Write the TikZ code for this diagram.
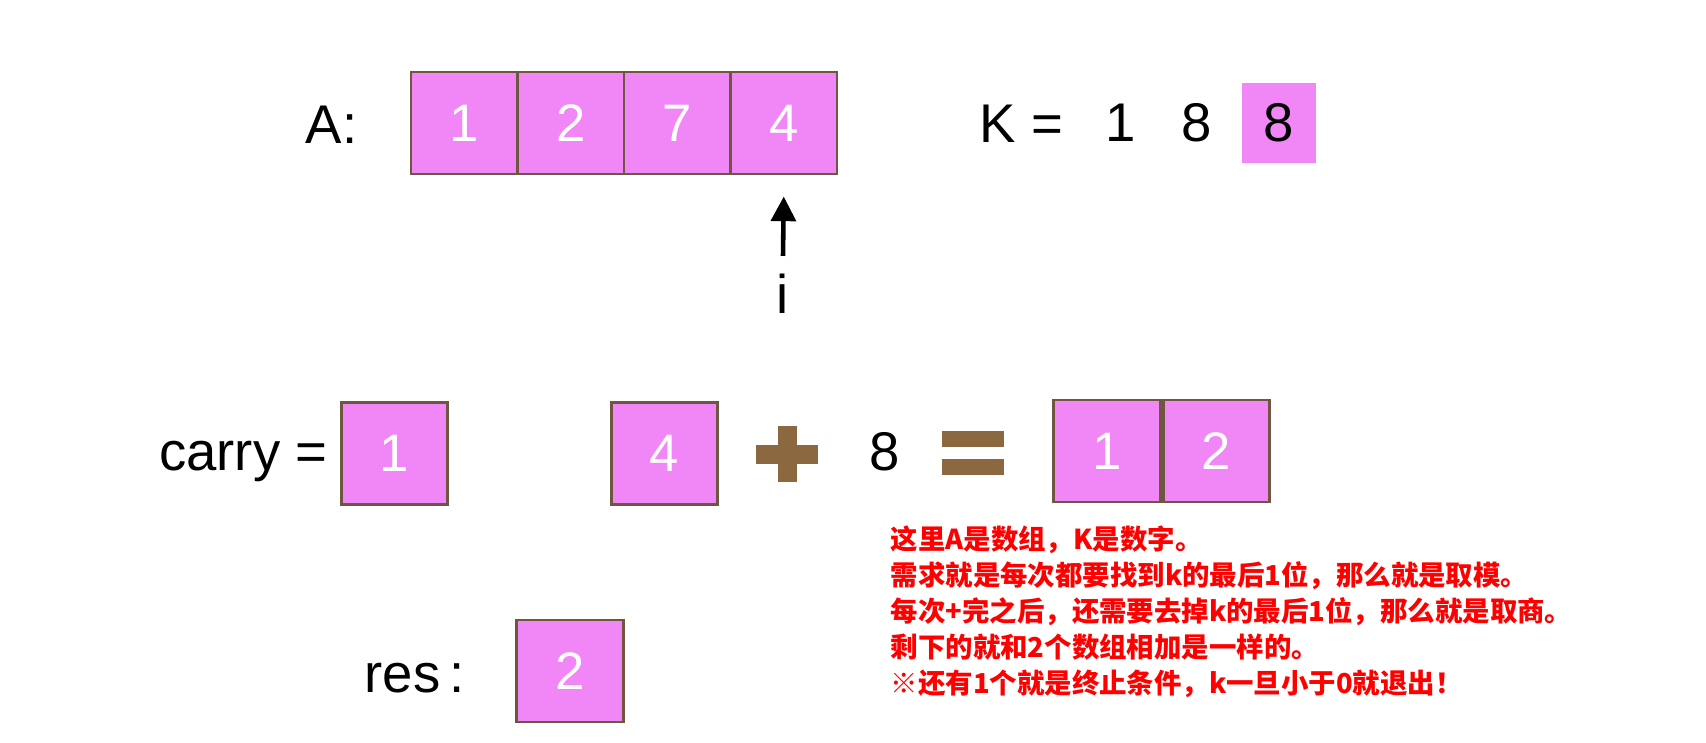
\documentclass[tikz,border=0pt]{standalone}
\usepackage{fontspec}
\setmainfont{Liberation Sans}
\newfontfamily\cjk{Noto Sans CJK SC}
\usetikzlibrary{arrows.meta,calc,positioning}

\definecolor{cellpink}{RGB}{241,134,246}
\definecolor{cellline}{RGB}{112,86,64}
\definecolor{opbrown}{RGB}{139,104,64}

\tikzset{
  cell/.style={draw=cellline, line width=0.8pt, fill=cellpink, text=white,
    minimum width=1.065cm, minimum height=1.02cm, inner sep=0pt,
    font=\fontsize{15}{18}\selectfont},
  kcell/.style={fill=cellpink, minimum width=0.74cm, minimum height=0.79cm,
    inner sep=0pt, font=\fontsize{15.5}{18}\selectfont},
  lbl/.style={inner sep=0pt, font=\fontsize{15.5}{18}\selectfont},
  note/.style={inner sep=0pt, text=red, font=\cjk\bfseries\fontsize{7.8}{10}\selectfont},
}

\begin{document}
\begin{tikzpicture}[x=0.01cm, y=-0.01cm]
  \useasboundingbox (0,0) rectangle (1706,742);

  % array A and its pointer
  \node[lbl, anchor=base west] (alabel) at (305,143) {A:};
  \foreach \v [count=\k] in {1,2,7,4}
    \node[cell] (a\k) at ({411+106.5*\k-53.25},123) {\v};
  \node[lbl] (ptr) at (783,294) {i};
  \draw[line width=1.3pt, -{Triangle[width=7pt,length=7pt]}]
    ([yshift=5pt]ptr.north) -- ([yshift=-6pt]a4.south);

  % number K
  \node[lbl, anchor=base west] (klabel) at (979,142) {K =};
  \node[lbl] (k1) at (1121,123) {1};
  \node[lbl] (k2) at (1197,123) {8};
  \node[kcell] (kbox) at (1279,123) {8};

  % one step of the sum
  \node[lbl, anchor=base east] (clabel) at (328,470) {carry =};
  \node[cell] (carry) at (394.5,453.5) {1};
  \node[cell] (digit) at (664.5,453.5) {4};
  \node[lbl] (kdigit) at (885,452) {8};
  \node[cell] (r1) at (1107,451) {1};
  \node[cell, right=0pt of r1] (r2) {2};

  % plus and equals signs
  \coordinate (plus) at (787,454);
  \fill[opbrown] ($(plus)+(-31,-9.5)$) rectangle ($(plus)+(31,9.5)$);
  \fill[opbrown] ($(plus)+(-9.5,-28)$) rectangle ($(plus)+(9.5,28)$);
  \coordinate (eq) at (973,453);
  \fill[opbrown] ($(eq)+(-31,-22)$) rectangle ($(eq)+(31,-6)$);
  \fill[opbrown] ($(eq)+(-31,6)$) rectangle ($(eq)+(31,22)$);

  % result
  \node[lbl, anchor=base west] (rlabel) at (364,692) {res\,:};
  \node[cell] (res) at (570,671) {2};

  % notes
  \foreach \ln [count=\k] in {这里A是数组，K是数字。,
      需求就是每次都要找到k的最后1位，那么就是取模。,
      每次+完之后，还需要去掉k的最后1位，那么就是取商。,
      剩下的就和2个数组相加是一样的。,
      ※还有1个就是终止条件，k一旦小于0就退出！}
    \node[note, anchor=base west] (note\k) at (890,{549+36*(\k-1)}) {\ln};
\end{tikzpicture}
\end{document}
